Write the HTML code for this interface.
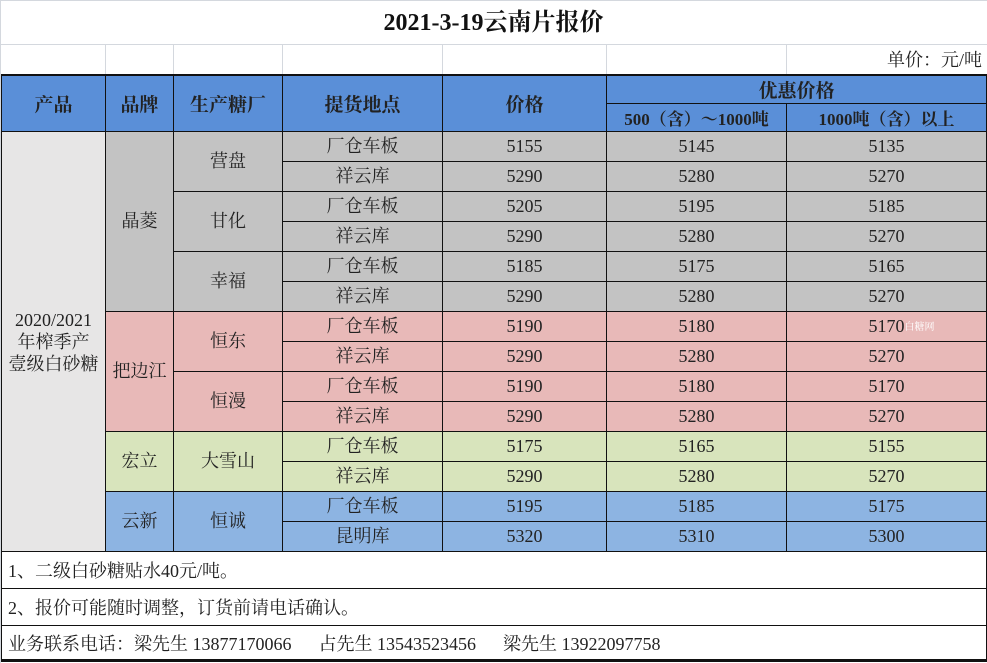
<!DOCTYPE html>
<html><head><meta charset="utf-8"><style>
html,body{margin:0;padding:0;background:#fff;width:987px;height:663px;overflow:hidden}
body{font-family:"Liberation Serif","Noto Serif CJK SC",serif;color:#222;position:relative}
.g{position:absolute;background:#d4d8de}
#title{position:absolute;left:0;top:0;width:987px;height:44px;line-height:46px;text-align:center;font-size:24px;font-weight:bold;font-family:"Liberation Serif","Noto Serif CJK SC",serif;color:#111}
#unit{position:absolute;right:5px;top:46px;font-size:18px;line-height:28px}
table{position:absolute;left:1px;top:74px;border-collapse:collapse;table-layout:fixed;width:985px}
td{border:1px solid #111;text-align:center;font-size:18px;padding:0;overflow:hidden;white-space:nowrap}
tr.h td{background:#5a8fd8;font-weight:bold;font-size:19px}
tr.h2 td{background:#5a8fd8;font-size:17px;font-weight:bold}
tr.d td{height:29px;line-height:29px}
.p{background:#e7e6e6}
.gr{background:#c3c3c3}
.pk{background:#e8b9b8}
.gn{background:#d8e4bc}
.bl{background:#8db4e2}
.n td{text-align:left;background:#fff;padding-left:6px;font-size:18px}
</style></head><body>
<div class="g" style="left:0;top:0;width:987px;height:1px"></div>
<div class="g" style="left:0;top:0;width:1px;height:663px"></div>
<div class="g" style="left:0;top:44px;width:987px;height:1px"></div>
<div class="g" style="left:105px;top:44px;width:1px;height:30px"></div>
<div class="g" style="left:173px;top:44px;width:1px;height:30px"></div>
<div class="g" style="left:282px;top:44px;width:1px;height:30px"></div>
<div class="g" style="left:442px;top:44px;width:1px;height:30px"></div>
<div class="g" style="left:606px;top:44px;width:1px;height:30px"></div>
<div class="g" style="left:786px;top:44px;width:1px;height:30px"></div>
<div id="title">2021-3-19云南片报价</div>
<div id="unit">单价：元/吨</div>
<table>
<colgroup><col style="width:104px"><col style="width:68px"><col style="width:109px"><col style="width:160px"><col style="width:164px"><col style="width:180px"><col style="width:200px"></colgroup>
<tr class="h" style="height:28px"><td rowspan="2" style="border-top:2px solid #111">产品</td><td rowspan="2" style="border-top:2px solid #111">品牌</td><td rowspan="2" style="border-top:2px solid #111">生产糖厂</td><td rowspan="2" style="border-top:2px solid #111">提货地点</td><td rowspan="2" style="border-top:2px solid #111">价格</td><td colspan="2" style="border-top:2px solid #111;height:27px">优惠价格</td></tr>
<tr class="h2" style="height:28px"><td>500（含）～1000吨</td><td>1000吨（含）以上</td></tr>
<tr class="d"><td rowspan="14" class="p" style="line-height:22px;white-space:normal">2020/2021<br>年榨季产<br>壹级白砂糖</td><td rowspan="6" class="gr">晶菱</td><td rowspan="2" class="gr">营盘</td><td class="gr">厂仓车板</td><td class="gr">5155</td><td class="gr">5145</td><td class="gr">5135</td></tr>
<tr class="d"><td class="gr">祥云库</td><td class="gr">5290</td><td class="gr">5280</td><td class="gr">5270</td></tr>
<tr class="d"><td rowspan="2" class="gr">甘化</td><td class="gr">厂仓车板</td><td class="gr">5205</td><td class="gr">5195</td><td class="gr">5185</td></tr>
<tr class="d"><td class="gr">祥云库</td><td class="gr">5290</td><td class="gr">5280</td><td class="gr">5270</td></tr>
<tr class="d"><td rowspan="2" class="gr">幸福</td><td class="gr">厂仓车板</td><td class="gr">5185</td><td class="gr">5175</td><td class="gr">5165</td></tr>
<tr class="d"><td class="gr">祥云库</td><td class="gr">5290</td><td class="gr">5280</td><td class="gr">5270</td></tr>
<tr class="d"><td rowspan="4" class="pk">把边江</td><td rowspan="2" class="pk">恒东</td><td class="pk">厂仓车板</td><td class="pk">5190</td><td class="pk">5180</td><td class="pk">5170<span style="display:inline-block;width:0;height:0;line-height:0;vertical-align:middle;font-size:10px;color:#fff;overflow:visible">白糖网</span></td></tr>
<tr class="d"><td class="pk">祥云库</td><td class="pk">5290</td><td class="pk">5280</td><td class="pk">5270</td></tr>
<tr class="d"><td rowspan="2" class="pk">恒漫</td><td class="pk">厂仓车板</td><td class="pk">5190</td><td class="pk">5180</td><td class="pk">5170</td></tr>
<tr class="d"><td class="pk">祥云库</td><td class="pk">5290</td><td class="pk">5280</td><td class="pk">5270</td></tr>
<tr class="d"><td rowspan="2" class="gn">宏立</td><td rowspan="2" class="gn">大雪山</td><td class="gn">厂仓车板</td><td class="gn">5175</td><td class="gn">5165</td><td class="gn">5155</td></tr>
<tr class="d"><td class="gn">祥云库</td><td class="gn">5290</td><td class="gn">5280</td><td class="gn">5270</td></tr>
<tr class="d"><td rowspan="2" class="bl">云新</td><td rowspan="2" class="bl">恒诚</td><td class="bl">厂仓车板</td><td class="bl">5195</td><td class="bl">5185</td><td class="bl">5175</td></tr>
<tr class="d"><td class="bl">昆明库</td><td class="bl">5320</td><td class="bl">5310</td><td class="bl">5300</td></tr>
<tr class="n" style="height:37px"><td colspan="7">1、二级白砂糖贴水40元/吨。</td></tr>
<tr class="n" style="height:37px"><td colspan="7">2、报价可能随时调整，订货前请电话确认。</td></tr>
<tr class="n" style="height:35px"><td colspan="7" style="border-bottom:3px solid #111">业务联系电话：梁先生 13877170066&nbsp;&nbsp;&nbsp;&nbsp;&nbsp;&nbsp;占先生 13543523456&nbsp;&nbsp;&nbsp;&nbsp;&nbsp;&nbsp;梁先生 13922097758</td></tr>
</table>
</body></html>
